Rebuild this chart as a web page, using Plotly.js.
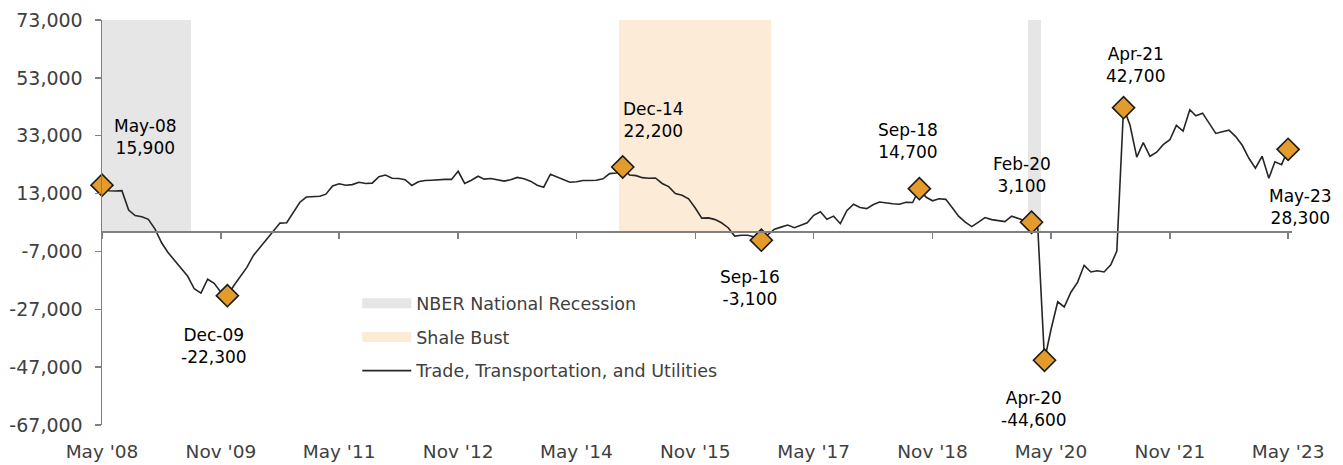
<!DOCTYPE html>
<html>
<head>
<meta charset="utf-8">
<script src="https://cdn.plot.ly/plotly-3.0.1.min.js"></script>
<style>html,body{margin:0;padding:0;background:#fff;}#chart{width:1343px;height:465px;}</style>
</head>
<body>
<div id="chart"></div>
<script>
// Monthly series, May 2008 .. May 2023 (cumulative change in jobs)
const startMonth = [2008, 5];
const seriesName = 'Trade, Transportation, and Utilities';
const values = [
 15900,14000,13900,14000,7300,5400,5000,4100,700,-4100,
 -7300,-10000,-12800,-15600,-19900,-21400,-16600,-18000,-21100,-22300,
 -18700,-15600,-12500,-8300,-5500,-2800,300,2800,2900,6600,
 10000,11800,11900,12100,12800,15600,16400,15900,16100,16900,
 16500,16600,18800,19400,18300,18200,17800,15800,17100,17500,
 17600,17800,17900,17900,20700,16500,17600,19000,18000,18200,
 17800,17300,17800,18600,18100,17300,15900,15200,19700,18700,
 17800,16900,17100,17500,17500,17600,18100,19900,20100,22200,
 19400,19200,18500,18300,18400,16500,15400,13000,12400,11200,
 8000,4500,4600,4000,2900,1200,-1700,-1400,-1400,-2000,
 -3100,-1100,700,1400,2100,1200,2100,2900,5500,6700,
 4100,5200,2600,7100,9300,8200,7800,9200,10100,9700,
 9500,9300,10000,9900,14700,11800,10500,11200,11000,8000,
 5200,3100,1600,3100,4700,4000,3600,3300,5200,4300,
 3600,3100,1000,-44600,-34000,-24400,-26200,-21100,-17600,-11800,
 -14100,-13700,-14100,-11600,-6900,42700,36600,25600,30600,25900,
 27300,29900,31600,36600,34600,42000,39900,40800,37300,33800,
 34400,34900,32700,29700,25200,21800,25900,18300,24000,23000,
 28300
];

// Highlighted points
const hlLabels = ['May-08','Dec-09','Dec-14','Sep-16','Sep-18','Feb-20','Apr-20','Apr-21','May-23'];
const hlDates  = ['2008-05-01','2009-12-01','2014-12-01','2016-09-01','2018-09-01','2020-02-01','2020-04-01','2021-04-01','2023-05-01'];
const hlValues = [15900,-22300,22200,-3100,14700,3100,-44600,42700,28300];

// Shaded periods (months)
const recessionName = 'NBER National Recession';
const recessionMonths = ['2008-05-01','2008-06-01','2008-07-01','2008-08-01','2008-09-01','2008-10-01','2008-11-01','2008-12-01',
  '2009-01-01','2009-02-01','2009-03-01','2009-04-01','2009-05-01','2009-06-01','2020-02-01','2020-03-01'];
const shaleName = 'Shale Bust';
const shaleStart = [2014, 12];
const shaleEnd = [2016, 10];

// Axis ticks
const yTickVals = [-67000,-47000,-27000,-7000,13000,33000,53000,73000];
const yRange = [-67000, 73000];
const bandTop = 73000;

// ---- build month lists ----
function pad(n){return (n<10?'0':'')+n;}
function monthSeq(y, m, count){
  const out = [];
  for (let i=0;i<count;i++){ out.push(y+'-'+pad(m)+'-01'); m++; if(m>12){m=1;y++;} }
  return out;
}
const dates = monthSeq(startMonth[0], startMonth[1], values.length);
const shaleCount = (shaleEnd[0]-shaleStart[0])*12 + (shaleEnd[1]-shaleStart[1]) + 1;
const shaleMonths = monthSeq(shaleStart[0], shaleStart[1], shaleCount);
const fmt = v => v.toLocaleString('en-US');

const FONT = 'DejaVu Sans';
const monthMs = 31.5*24*3600*1000;
const grayCol = '#e6e6e6', shaleCol = '#fbebd7';

const traces = [
  {type:'bar', x:recessionMonths, y:recessionMonths.map(()=>bandTop), width:recessionMonths.map(()=>monthMs),
   marker:{color:grayCol, line:{width:0}}, showlegend:false, hoverinfo:'skip'},
  {type:'bar', x:shaleMonths, y:shaleMonths.map(()=>bandTop), width:shaleMonths.map(()=>monthMs),
   marker:{color:shaleCol, line:{width:0}}, showlegend:false, hoverinfo:'skip'},
  // legend swatches
  {type:'scatter', mode:'lines', x:[null], y:[null], name:recessionName, legendgroup:'a',
   line:{color:grayCol, width:15}},
  {type:'scatter', mode:'lines', x:[null], y:[null], name:shaleName, legendgroup:'b',
   line:{color:shaleCol, width:15}},
  {type:'scatter', mode:'lines', x:dates, y:values, name:seriesName, legendgroup:'c',
   line:{color:'#262626', width:1.6}, cliponaxis:false},
  {type:'scatter', mode:'markers', x:hlDates, y:hlValues, xaxis:'x2', yaxis:'y', showlegend:false,
   marker:{symbol:'diamond', size:17, color:'#e39c2b', line:{color:'#1a1a1a', width:1.6}}, cliponaxis:false}
];

const xs = [43,-13,31,-11,-11,-10,-11,12,12];
const ys = [48,-50,47,-48,48,47,-49,43,-58];
const annotations = hlLabels.map((lab,i)=>({
  x:hlDates[i], y:hlValues[i], xref:'x', yref:'y', showarrow:false,
  text: lab+'<br>'+fmt(hlValues[i]), xshift:xs[i], yshift:ys[i],
  font:{family:FONT, size:17, color:'#000'}, align:'center'
}));

const layout = {
  width:1343, height:465,
  margin:{l:102, r:51, t:20, b:40},
  paper_bgcolor:'#fff', plot_bgcolor:'#fff',
  barmode:'overlay', bargap:0,
  showlegend:true,
  legend:{x:0.2145, xanchor:'left', y:0.345, yanchor:'top', font:{family:FONT, size:17.5, color:'#404040'},
          itemwidth:49, traceorder:'grouped', tracegroupgap:8, bgcolor:'rgba(0,0,0,0)'},
  xaxis:{type:'date', range:['2008-05-01','2023-05-19'], tick0:'2008-05-01', dtick:'M18', tickformat:"%b '%y",
         showgrid:false, zeroline:false, showline:false, ticks:'outside', ticklen:10, tickcolor:'rgba(0,0,0,0)',
         tickfont:{family:FONT, size:18.5, color:'#404040'}},
  xaxis2:{type:'date', overlaying:'x', matches:'x', anchor:'free', side:'bottom',
          position:(0-yRange[0])/(yRange[1]-yRange[0]),
          tick0:'2008-05-01', dtick:'M18', showticklabels:false, showgrid:false, zeroline:false,
          showline:true, linecolor:'#808080', linewidth:1.5, ticks:'outside', ticklen:6, tickwidth:1.5, tickcolor:'#808080'},
  yaxis:{range:yRange, tickvals:yTickVals, ticktext:yTickVals.map(fmt), showgrid:false, zeroline:false,
         showline:true, linecolor:'#808080', linewidth:1.5, ticks:'outside', ticklen:6, tickwidth:1.5, tickcolor:'#808080',
         ticklabelstandoff:8, tickfont:{family:FONT, size:19, color:'#404040'}},
  annotations:annotations
};

Plotly.newPlot('chart', traces, layout, {displayModeBar:false, staticPlot:true});
</script>
</body>
</html>
